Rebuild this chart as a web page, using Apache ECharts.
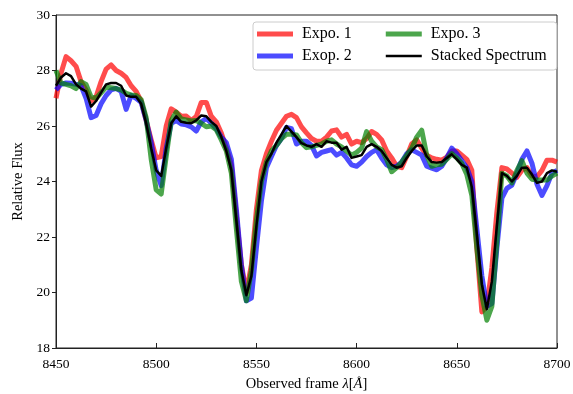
<!DOCTYPE html>
<html>
<head>
<meta charset="utf-8">
<script src="https://cdn.jsdelivr.net/npm/echarts@6/dist/echarts.min.js"></script>
<style>html,body{margin:0;padding:0;background:#fff}#c{width:573px;height:394px}</style>
</head>
<body>
<div id="c"></div>
<script>
const lam = [8450,8452.5,8455,8457.5,8460,8462.5,8465,8467.5,8470,8472.5,8475,8477.5,8480,8482.5,8485,8487.5,8490,8492.5,8495,8497.5,
8500,8502.5,8505,8507.5,8510,8512.5,8515,8517.5,8520,8522.5,8525,8527.5,8530,8532.5,8535,8537.5,8540,8542.5,8545,8547.5,
8550,8552.5,8555,8557.5,8560,8562.5,8565,8567.5,8570,8572.5,8575,8577.5,8580,8582.5,8585,8587.5,8590,8592.5,8595,8597.5,
8600,8602.5,8605,8607.5,8610,8612.5,8615,8617.5,8620,8622.5,8625,8627.5,8630,8632.5,8635,8637.5,8640,8642.5,8645,8647.5,
8650,8652.5,8655,8657.5,8660,8662.5,8665,8667.5,8670,8672.5,8675,8677.5,8680,8682.5,8685,8687.5,8690,8692.5,8695,8697.5,8700];

const expo1 = [27.0,27.9,28.5,28.35,28.15,27.6,27.3,26.9,27.05,27.6,28.05,28.2,28.0,27.9,27.75,27.45,27.25,26.9,26.2,25.5,
24.85,24.9,26.0,26.62,26.5,26.35,26.36,26.2,26.34,26.85,26.85,26.35,26.15,25.75,25.2,24.6,22.8,21.0,20.0,21.0,
23.0,24.4,25.0,25.45,25.85,26.1,26.35,26.42,26.3,25.97,25.75,25.55,25.45,25.45,25.6,25.82,25.86,25.6,25.7,25.35,
25.45,25.4,25.55,25.8,25.7,25.5,25.1,24.85,24.55,24.5,24.9,25.35,25.5,25.2,24.95,24.85,24.8,24.77,24.88,25.1,
25.1,24.95,24.8,24.4,21.6,19.3,19.5,20.9,22.9,24.5,24.45,24.3,24.15,24.4,24.5,24.2,24.17,24.4,24.77,24.77,24.7];

const exop2 = [27.3,27.5,27.55,27.54,27.5,27.45,27.0,26.3,26.38,26.8,27.1,27.3,27.36,27.25,26.6,27.1,27.0,26.85,26.2,25.4,
24.4,23.85,25.2,26.1,26.2,26.07,26.04,25.97,25.82,26.15,26.27,26.1,25.9,25.6,25.4,24.8,23.0,21.0,19.7,19.8,
21.6,23.3,24.5,24.9,25.3,25.55,25.95,25.9,25.35,25.45,25.45,25.3,24.92,25.05,25.1,25.15,24.95,25.05,24.85,24.6,
24.55,24.7,24.9,25.05,25.15,24.85,24.6,24.5,24.55,24.7,25.0,25.14,25.05,24.95,24.55,24.48,24.42,24.55,24.85,25.2,
25.0,24.75,24.5,24.0,22.3,20.6,19.5,19.6,21.6,23.4,23.75,23.87,24.3,24.8,25.1,24.66,23.9,23.5,23.85,24.3,24.4];

const expo3 = [28.0,27.55,27.5,27.45,27.35,27.6,27.5,27.05,27.0,27.2,27.4,27.38,27.35,27.3,27.18,27.12,27.1,26.95,26.3,24.8,
23.7,23.55,24.9,26.2,26.5,26.25,26.22,26.18,26.2,26.1,25.97,26.0,25.86,25.5,25.1,24.3,22.3,20.4,19.7,20.8,
22.6,24.0,24.7,25.1,25.3,25.55,25.7,25.7,25.68,25.4,25.22,25.25,25.3,25.35,25.45,25.5,25.35,25.25,25.1,24.95,
25.05,25.2,25.8,25.45,25.25,25.15,24.8,24.35,24.5,24.7,24.95,25.2,25.6,25.85,24.95,24.55,24.6,24.62,24.8,25.0,
24.85,24.65,24.25,23.5,21.6,19.9,19.0,19.5,21.8,24.3,24.2,23.95,24.4,24.75,24.3,24.08,24.05,24.05,24.05,24.2,24.3];

const stacked = [27.45,27.75,27.9,27.8,27.5,27.35,27.25,26.7,26.9,27.2,27.5,27.55,27.55,27.45,27.1,27.05,27.05,26.8,26.1,25.2,
24.4,24.2,25.2,26.1,26.35,26.15,26.12,26.1,26.2,26.38,26.35,26.15,26.0,25.6,25.1,24.4,22.6,20.8,19.9,20.6,
22.4,24.0,24.7,25.0,25.4,25.7,26.0,25.8,25.6,25.38,25.3,25.25,25.35,25.25,25.45,25.4,25.4,25.15,25.25,24.85,
24.9,24.95,25.25,25.35,25.25,25.1,24.85,24.6,24.5,24.55,24.85,25.1,25.3,25.3,24.9,24.7,24.68,24.7,24.85,24.98,
24.8,24.6,24.5,23.8,22.1,20.3,19.4,20.4,22.4,24.3,24.2,24.0,24.2,24.5,24.5,24.25,23.95,24.0,24.3,24.4,24.35];

const xTicks = [8450, 8500, 8550, 8600, 8650, 8700];
const yTicks = [18, 20, 22, 24, 26, 28, 30];

const FONT = '"Liberation Serif", "DejaVu Serif", serif';
const pair = arr => lam.map((x, i) => [x, arr[i]]);

const thickIcon = 'path://M0,0H0.05V0.05H0Z M0,2.5H36V7.5H0Z M0,9.95H0.05V10H0Z';
const thinIcon = 'path://M0,0H0.05V0.05H0Z M0,3.7H36V6.3H0Z M0,9.95H0.05V10H0Z';

const chart = echarts.init(document.getElementById('c'), null, {renderer: 'canvas'});
const mkSeries = (name, arr, color, w, z) => ({
  name, type: 'line', data: pair(arr), symbol: 'none', showSymbol: false, z,
  lineStyle: {color, width: w, join: 'round', cap: 'butt'},
  itemStyle: {color},
  emphasis: {disabled: true}
});

const col1Text = {padding: [0, 30, 0, 4]};
const col2Text = {padding: [0, 0, 0, 4]};

chart.setOption({
  animation: false,
  textStyle: {fontFamily: FONT},
  grid: {left: 56, right: 16, top: 15, bottom: 46, containLabel: false, outerBoundsMode: 'none',
         show: true, borderColor: '#222', borderWidth: 1, backgroundColor: 'transparent'},
  legend: {
    left: 253, top: 22, width: 292,
    orient: 'horizontal',
    itemWidth: 36, itemHeight: 10, itemGap: 4,
    padding: [3, 10, 5, 4],
    backgroundColor: '#fff',
    borderColor: '#cccccc', borderWidth: 1, borderRadius: 3,
    textStyle: {fontFamily: FONT, fontSize: 16, lineHeight: 18, color: '#000'},
    data: [
      {name: 'Expo. 1', icon: thickIcon, textStyle: col1Text},
      {name: 'Expo. 3', icon: thickIcon, textStyle: col2Text},
      {name: 'Exop. 2', icon: thickIcon, textStyle: col1Text},
      {name: 'Stacked Spectrum', icon: thinIcon, textStyle: col2Text}
    ]
  },
  xAxis: {
    type: 'value', min: xTicks[0], max: xTicks[xTicks.length - 1], interval: 50,
    name: '{n|Observed frame }{i|λ}{n|[}{i|Å}{n|]}',
    nameLocation: 'middle', nameGap: 29,
    nameTextStyle: {
      rich: {
        n: {fontFamily: FONT, fontSize: 14.5, color: '#000'},
        i: {fontFamily: FONT, fontSize: 14.5, fontStyle: 'italic', color: '#000'}
      }
    },
    axisLine: {show: true, lineStyle: {color: '#222', width: 1}},
    axisTick: {show: true, inside: true, length: 5, lineStyle: {color: '#222'}},
    axisLabel: {fontFamily: FONT, fontSize: 13.5, color: '#000', margin: 9, formatter: v => String(v)},
    splitLine: {show: false}
  },
  yAxis: {
    type: 'value', min: yTicks[0], max: yTicks[yTicks.length - 1], interval: 2,
    name: 'Relative Flux', nameLocation: 'middle', nameGap: 28, nameRotate: 90,
    nameTextStyle: {fontFamily: FONT, fontSize: 14.5, color: '#000'},
    axisLine: {show: true, lineStyle: {color: '#222', width: 1}},
    axisTick: {show: true, inside: false, length: 4, lineStyle: {color: '#222'}},
    axisLabel: {fontFamily: FONT, fontSize: 13.5, color: '#000', margin: 6},
    splitLine: {show: false}
  },
  series: [
    mkSeries('Expo. 1', expo1, 'rgba(255,0,0,0.7)', 5, 2),
    mkSeries('Exop. 2', exop2, 'rgba(0,0,255,0.7)', 5, 3),
    mkSeries('Expo. 3', expo3, 'rgba(0,128,0,0.7)', 5, 4),
    mkSeries('Stacked Spectrum', stacked, '#000000', 2.5, 5)
  ]
});
</script>
</body>
</html>
